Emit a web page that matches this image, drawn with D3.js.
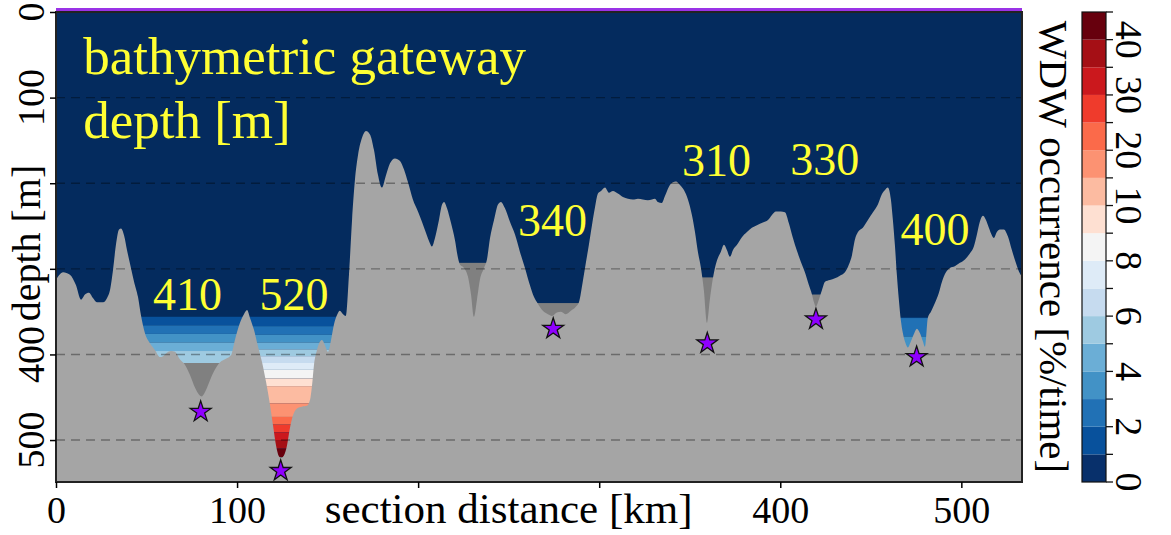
<!DOCTYPE html>
<html>
<head>
<meta charset="utf-8">
<script src="https://cdn.jsdelivr.net/npm/d3@7"></script>
<style>
	body { margin: 0; background: #fff; }
	#chart-area { width: 1171px; height: 535px; }
	text { font-family: "Liberation Serif", "DejaVu Serif", serif; }
</style>
</head>
<body>
<div id="chart-area"></div>
<script>

// bathymetry along the section (km, m)
const distKm = [
	0, 3.9, 7.7, 11.0, 13.8, 16.0, 18.2, 20.4, 22.6, 26.0,
	28.2, 29.8, 31.5, 33.1, 34.8, 35.9, 37.6, 39.2, 41.4, 43.1,
	45.3, 46.9, 49.1, 51.9, 54.7, 57.4, 59.1, 61.3, 63.5, 65.7,
	68.5, 71.2, 74.0, 76.8, 79.0, 80.6, 82.3, 84.5, 87.2, 90.6,
	93.9, 96.6, 98.8, 101.6, 103.8, 105.5, 107.1, 109.3, 111.5, 113.8,
	116.0, 118.2, 119.8, 121.5, 123.1, 124.2, 125.9, 127.6, 129.2, 130.9,
	133.1, 135.8, 138.6, 140.3, 141.4, 142.5, 144.1, 145.8, 146.9, 148.5,
	150.2, 151.9, 153.5, 155.2, 156.8, 158.5, 160.1, 161.8, 163.5, 165.1,
	166.8, 169.0, 171.2, 173.4, 175.6, 177.8, 180.0, 182.2, 184.4, 187.2,
	190.0, 192.2, 194.4, 197.1, 199.9, 202.1, 204.3, 206.5, 207.6, 209.3,
	211.5, 213.2, 214.3, 215.9, 218.1, 220.3, 222.0, 223.1, 225.3, 227.5,
	229.2, 230.8, 232.5, 234.1, 236.4, 238.0, 239.7, 241.9, 244.1, 245.7,
	247.9, 250.7, 253.5, 256.2, 259.0, 261.7, 264.0, 266.2, 268.9, 271.7,
	273.9, 276.6, 278.9, 281.6, 284.4, 287.2, 288.8, 291.0, 292.7, 294.3,
	296.0, 297.6, 299.3, 301.0, 303.2, 305.4, 307.6, 310.3, 313.1, 315.9,
	318.6, 321.4, 324.1, 326.9, 329.1, 330.8, 332.4, 334.6, 336.3, 338.5,
	340.7, 342.4, 344.6, 346.8, 349.0, 351.2, 352.9, 354.5, 356.2, 357.8,
	359.5, 361.1, 362.2, 363.9, 365.6, 367.2, 368.9, 370.5, 372.2, 373.9,
	376.1, 378.8, 381.6, 384.3, 387.1, 390.4, 393.2, 395.4, 397.6, 400.3,
	402.6, 404.8, 407.0, 409.2, 411.4, 413.6, 415.8, 417.5, 418.6, 419.7,
	421.3, 423.0, 424.7, 427.4, 430.2, 432.9, 435.7, 437.9, 439.6, 441.2,
	442.9, 445.6, 448.4, 451.2, 453.9, 456.1, 457.8, 459.4, 461.1, 462.2,
	463.3, 464.4, 465.5, 466.6, 467.7, 469.4, 470.5, 472.1, 473.8, 475.5,
	477.1, 478.8, 479.9, 481.5, 483.2, 485.4, 487.6, 489.3, 491.5, 493.7,
	496.4, 499.2, 502.0, 504.7, 506.9, 508.6, 510.2, 511.9, 513.6, 515.2,
	516.9, 518.0, 519.6, 521.3, 523.5, 525.7, 527.9, 530.1, 531.8, 533.5
];
const depthM = [
	313, 304, 307, 319, 336, 330, 328, 334, 339, 339,
	334, 325, 301, 272, 254, 253, 261, 278, 299, 315,
	333, 354, 375, 387, 395, 403, 402, 398, 396, 397,
	406, 412, 424, 439, 447, 449, 444, 433, 420, 409,
	405, 401, 383, 363, 353, 348, 357, 371, 390, 409,
	432, 459, 482, 506, 519, 521, 518, 506, 486, 471,
	463, 461, 460, 453, 436, 412, 395, 385, 383, 389,
	397, 383, 365, 354, 349, 353, 355, 307, 243, 196,
	167, 147, 139, 143, 161, 190, 205, 191, 177, 171,
	174, 184, 199, 219, 233, 245, 258, 270, 274, 264,
	243, 225, 222, 229, 246, 266, 287, 295, 299, 309,
	330, 356, 336, 313, 299, 289, 264, 243, 225, 222,
	229, 245, 260, 280, 299, 319, 333, 341, 349, 353,
	355, 351, 350, 353, 349, 344, 339, 314, 292, 272,
	249, 229, 212, 209, 205, 211, 209, 212, 216, 218,
	219, 218, 219, 220, 219, 218, 222, 223, 215, 204,
	199, 198, 202, 208, 219, 237, 257, 280, 299, 325,
	363, 336, 319, 299, 287, 280, 272, 278, 286, 278,
	272, 263, 257, 252, 249, 246, 243, 237, 233, 233,
	234, 247, 264, 279, 292, 304, 319, 330, 339, 344,
	336, 325, 315, 313, 311, 308, 304, 295, 284, 266,
	257, 252, 243, 234, 225, 213, 208, 205, 219, 243,
	272, 307, 336, 360, 375, 388, 392, 385, 376, 370,
	375, 385, 391, 357, 350, 340, 328, 315, 304, 299,
	297, 293, 289, 282, 274, 260, 245, 238, 243, 252,
	261, 264, 257, 254, 254, 262, 278, 293, 303, 309
];

// gateways
const gateNames = ["410", "520", "340", "310", "330", "400"];
const gateDepth = [410, 520, 340, 310, 330, 400];
const gateFrom = [45, 106, 260, 355, 416, 463];
const gateTo = [106, 162, 292, 364, 423, 483];
const labelKm = [72.6, 131.4, 274.2, 364.8, 424.6, 485.4];
const labelDepth = [348, 348, 262, 191, 190, 272];
const starKm = [79.9, 124.1, 274.6, 359.7, 419.7, 475.3];
const starDepth = [467, 536, 370, 387, 359, 403];

// depth where WDW occurrence enters colour level 1, 2, 3 ...
const band410 = [356, 366, 376, 386, 396];
const band520 = [356, 367, 377, 386, 394, 402, 410, 418, 428, 437, 457, 473, 482, 491, 500, 510];
const band400 = [357, 357.5, 379];
const gateBands = [band410, band520, [], [], [], band400];

// unlabelled sill
const sillFrom = [222];
const sillTo = [239];
const sillDepth = [293];

// colorbar
const cbBounds = [0, 1, 2, 3, 4, 5, 6, 7, 8, 9, 10, 15, 20, 25, 30, 35, 40, 45];
const cbLabels = [0, 2, 4, 6, 8, 10, 20, 30, 40];

const depthTicks = [0, 100, 200, 300, 400, 500];
const depthLabels = [0, 100, 400, 500];
const distTicks = [0, 100, 200, 300, 400, 500];
const distLabels = [0, 100, 400, 500];


class GatewayChart {

	constructor(parentElement) {
		this.parentElement = parentElement;
		this.profile = distKm.map((d, i) => ({km: d, depth: depthM[i]}));
		this.initVis();
	}

	initVis() {
		let vis = this;

		vis.margin = {top: 12, right: 149, bottom: 53, left: 56};
		vis.width = 1171 - vis.margin.left - vis.margin.right;
		vis.height = 535 - vis.margin.top - vis.margin.bottom;

		vis.root = d3.select("#" + vis.parentElement).append("svg")
			.attr("width", 1171)
			.attr("height", 535);

		vis.svg = vis.root.append("g")
			.attr("transform", "translate(" + vis.margin.left + "," + vis.margin.top + ")");

		vis.x = d3.scaleLinear().domain([0, 533.5]).range([0, vis.width]);
		vis.y = d3.scaleLinear().domain([0, 549]).range([0, vis.height]);

		// blues (reversed) - white - reds, one colour per level
		vis.levelColors = d3.schemeBlues[9].slice(1).reverse()
			.concat(["#f4f4f4"])
			.concat(d3.schemeReds[9].slice(1));
		vis.levelColor = l => vis.levelColors[l];

		vis.svg.append("clipPath").attr("id", "plot-clip")
			.append("rect").attr("width", vis.width).attr("height", vis.height);

		vis.plot = vis.svg.append("g").attr("clip-path", "url(#plot-clip)");

		vis.updateVis();
	}

	updateVis() {
		let vis = this;
		const grey = "#a5a5a5", darkGrey = "#808080", yellow = "#ffff33";

		// water
		vis.plot.append("rect")
			.attr("width", vis.width)
			.attr("height", vis.height)
			.attr("fill", "#042b5e");

		// WDW occurrence bands + blocked water below gateway depth
		gateNames.forEach((g, i) => {
			let tops = gateBands[i];
			let x0 = vis.x(gateFrom[i]), w = vis.x(gateTo[i]) - x0;
			tops.forEach((t, j) => {
				let bottom = j < tops.length - 1 ? tops[j + 1] : gateDepth[i];
				vis.plot.append("rect")
					.attr("x", x0).attr("width", w)
					.attr("y", vis.y(t))
					.attr("height", vis.y(bottom) - vis.y(t))
					.attr("fill", vis.levelColor(j + 1));
			});
			vis.plot.append("rect")
				.attr("x", x0).attr("width", w)
				.attr("y", vis.y(gateDepth[i]))
				.attr("height", vis.height - vis.y(gateDepth[i]))
				.attr("fill", darkGrey);
		});

		sillDepth.forEach((s, i) => {
			vis.plot.append("rect")
				.attr("x", vis.x(sillFrom[i]))
				.attr("width", vis.x(sillTo[i]) - vis.x(sillFrom[i]))
				.attr("y", vis.y(s))
				.attr("height", vis.height - vis.y(s))
				.attr("fill", darkGrey);
		});

		// sea floor
		let area = d3.area()
			.x(d => vis.x(d.km))
			.y0(vis.height)
			.y1(d => vis.y(d.depth))
			.curve(d3.curveMonotoneX);

		vis.plot.append("path")
			.datum(vis.profile)
			.attr("d", area)
			.attr("fill", grey);

		// dashed grid
		vis.plot.selectAll(".grid")
			.data(depthTicks.slice(1))
			.enter().append("line")
			.attr("class", "grid")
			.attr("x1", 0).attr("x2", vis.width)
			.attr("y1", d => vis.y(d)).attr("y2", d => vis.y(d))
			.attr("stroke", "#000")
			.attr("stroke-opacity", 0.35)
			.attr("stroke-width", 1.4)
			.attr("stroke-dasharray", "9,6");

		// deepest points
		vis.plot.selectAll(".star")
			.data(starKm)
			.enter().append("path")
			.attr("class", "star")
			.attr("transform", (d, i) => "translate(" + vis.x(d) + "," + vis.y(starDepth[i]) + ")")
			.attr("d", d3.symbol().type(d3.symbolStar).size(135))
			.attr("fill", "#8f00ff")
			.attr("stroke", "#111")
			.attr("stroke-width", 1.3);

		// gateway depths
		vis.plot.selectAll(".gate-label")
			.data(gateNames)
			.enter().append("text")
			.attr("class", "gate-label")
			.attr("x", (d, i) => vis.x(labelKm[i]))
			.attr("y", (d, i) => vis.y(labelDepth[i]))
			.attr("text-anchor", "middle")
			.attr("font-size", 46)
			.attr("fill", yellow)
			.text(d => d);

		vis.plot.append("text")
			.attr("x", vis.x(15)).attr("y", vis.y(73))
			.attr("font-size", 53).attr("fill", yellow)
			.text("bathymetric gateway");
		vis.plot.append("text")
			.attr("x", vis.x(15)).attr("y", vis.y(147))
			.attr("font-size", 53).attr("fill", yellow)
			.text("depth [m]");

		// sea surface
		vis.svg.append("line")
			.attr("x1", 0).attr("x2", vis.width)
			.attr("y1", vis.y(0) - 2).attr("y2", vis.y(0) - 2)
			.attr("stroke", "#9a32e6")
			.attr("stroke-width", 4);

		// frame
		vis.svg.append("rect")
			.attr("width", vis.width).attr("height", vis.height)
			.attr("fill", "none")
			.attr("stroke", "#222")
			.attr("stroke-width", 2);

		// x axis
		let xAxis = d3.axisBottom(vis.x)
			.tickValues(distTicks)
			.tickSize(6)
			.tickPadding(8)
			.tickFormat(d => distLabels.includes(d) ? d : "");
		let gx = vis.svg.append("g")
			.attr("transform", "translate(0," + vis.height + ")")
			.call(xAxis);
		gx.select(".domain").remove();
		gx.selectAll("line").attr("stroke-width", 1.5);
		gx.selectAll("text").attr("font-size", 38).attr("fill", "#000")
			.attr("font-family", "Liberation Serif");

		vis.svg.append("text")
			.attr("x", vis.x(250)).attr("y", vis.height + 41)
			.attr("text-anchor", "middle")
			.attr("font-size", 43)
			.text("section distance [km]");

		// y axis (rotated labels)
		let yAxis = d3.axisLeft(vis.y)
			.tickValues(depthTicks)
			.tickSize(6)
			.tickFormat("");
		let gy = vis.svg.append("g").call(yAxis);
		gy.select(".domain").remove();
		gy.selectAll("line").attr("stroke-width", 1.5);

		vis.svg.selectAll(".ytick")
			.data(depthLabels)
			.enter().append("text")
			.attr("class", "ytick")
			.attr("transform", d => "translate(-12," + vis.y(d) + ") rotate(-90)")
			.attr("text-anchor", "middle")
			.attr("font-size", 38)
			.text(d => d);

		vis.svg.append("text")
			.attr("transform", "translate(-16," + (vis.height / 2 - 4) + ") rotate(-90)")
			.attr("text-anchor", "middle")
			.attr("font-size", 40)
			.text("depth [m]");

		// colorbar
		let cb = vis.root.append("g").attr("transform", "translate(1082," + vis.margin.top + ")");
		let cbW = 24;
		let cy = d3.scaleLinear().domain([0, cbBounds.length - 1]).range([vis.height, 0]);

		cb.selectAll(".cb-cell")
			.data(cbBounds.slice(0, -1))
			.enter().append("rect")
			.attr("class", "cb-cell")
			.attr("x", 0).attr("width", cbW)
			.attr("y", (d, i) => cy(i + 1))
			.attr("height", (d, i) => cy(i) - cy(i + 1))
			.attr("fill", (d, i) => vis.levelColor(i));

		cb.append("rect")
			.attr("width", cbW).attr("height", vis.height)
			.attr("fill", "none").attr("stroke", "#111").attr("stroke-width", 1.2);

		cb.selectAll(".cb-tick")
			.data(cbBounds)
			.enter().append("line")
			.attr("class", "cb-tick")
			.attr("x1", cbW).attr("x2", cbW + 7)
			.attr("y1", (d, i) => cy(i)).attr("y2", (d, i) => cy(i))
			.attr("stroke", "#111").attr("stroke-width", 1.3);

		cb.selectAll(".cb-label")
			.data(cbLabels)
			.enter().append("text")
			.attr("class", "cb-label")
			.attr("transform", d => "translate(" + (cbW + 10) + "," + cy(cbBounds.indexOf(d)) + ") rotate(90)")
			.attr("text-anchor", "middle")
			.attr("font-size", 38)
			.text(d => d);

		cb.append("text")
			.attr("transform", "translate(-42," + vis.height / 2 + ") rotate(90)")
			.attr("text-anchor", "middle")
			.attr("font-size", 41)
			.text("WDW occurrence [%/time]");
	}
}

new GatewayChart("chart-area");

</script>
</body>
</html>
